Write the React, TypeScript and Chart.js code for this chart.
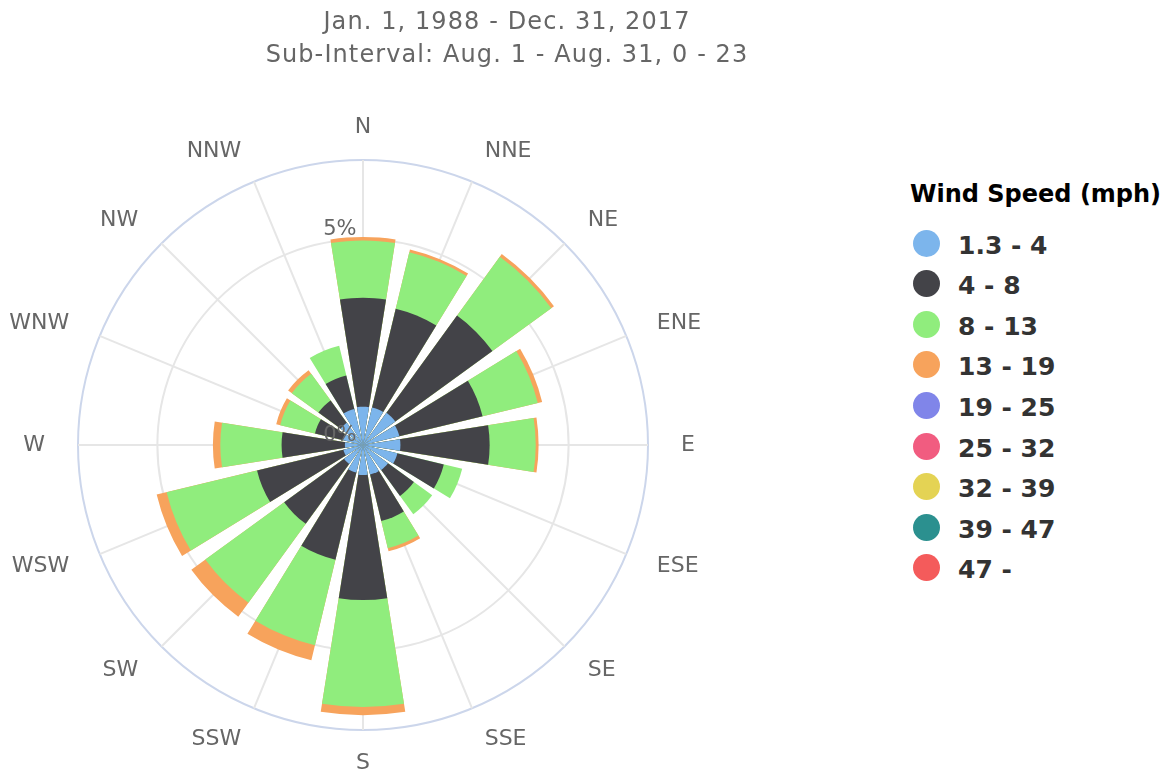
import React, { useEffect, useRef } from 'react';
import { Chart, registerables } from 'chart.js';

Chart.register(...registerables);

// ---------- data ----------
const titleLines = ['Jan. 1, 1988 - Dec. 31, 2017', 'Sub-Interval: Aug. 1 - Aug. 31, 0 - 23'];
const legendTitle = 'Wind Speed (mph)';
const directions = ['N', 'NNE', 'NE', 'ENE', 'E', 'ESE', 'SE', 'SSE', 'S', 'SSW', 'SW', 'WSW', 'W', 'WNW', 'NW', 'NNW'];
const speedBins = ['1.3 - 4', '4 - 8', '8 - 13', '13 - 19', '19 - 25', '25 - 32', '32 - 39', '39 - 47', '47 -'];
const binColors = ['#7cb5ec', '#434348', '#90ed7d', '#f7a35c', '#8085e9', '#f15c80', '#e4d354', '#2b908f', '#f45b5b'];

// frequency (%) per direction, N .. NNW
const bin1 = [0.93, 0.94, 0.97, 0.91, 0.91, 0.86, 0.75, 0.74, 0.73, 0.69, 0.57, 0.49, 0.44, 0.51, 0.67, 0.90];
const bin2 = [2.65, 2.47, 2.92, 2.08, 2.17, 1.16, 0.78, 1.16, 3.04, 2.18, 1.80, 2.16, 1.54, 0.69, 0.67, 0.84];
const bin3 = [1.39, 1.41, 1.77, 1.38, 1.12, 0.46, 0.55, 0.68, 2.60, 2.14, 2.37, 2.26, 1.49, 0.87, 0.80, 0.74];
const bin4 = [0.09, 0.07, 0.08, 0.11, 0.07, 0.00, 0.00, 0.08, 0.20, 0.37, 0.42, 0.25, 0.18, 0.10, 0.11, 0.00];
const bin5 = [0, 0, 0, 0, 0, 0, 0, 0, 0, 0, 0, 0, 0, 0, 0, 0];
const bin6 = [0, 0, 0, 0, 0, 0, 0, 0, 0, 0, 0, 0, 0, 0, 0, 0];
const bin7 = [0, 0, 0, 0, 0, 0, 0, 0, 0, 0, 0, 0, 0, 0, 0, 0];
const bin8 = [0, 0, 0, 0, 0, 0, 0, 0, 0, 0, 0, 0, 0, 0, 0, 0];
const bin9 = [0, 0, 0, 0, 0, 0, 0, 0, 0, 0, 0, 0, 0, 0, 0, 0];

const radialTicks = [0, 5];
const radialMax = 6.93;

// ---------- geometry / style ----------
const BAR_ANGLE = 18;
const GAP_ANGLE = 360 / 16 - BAR_ANGLE;
const series = [bin1, bin2, bin3, bin4, bin5, bin6, bin7, bin8, bin9];

// element sequence: N(right half), [gap, bar k] for k=1..15, gap, N(left half)
const elementAngles: number[] = (() => {
  const a = [BAR_ANGLE / 2];
  for (let k = 1; k < directions.length; k++) a.push(GAP_ANGLE, BAR_ANGLE);
  a.push(GAP_ANGLE, BAR_ANGLE / 2);
  return a;
})();

function buildElements(j: number): number[] {
  const cum = directions.map((_, k) => series.slice(0, j + 1).reduce((acc, s) => acc + s[k], 0));
  const val = (k: number) => (series[j][k] > 0 ? cum[k] : 0);
  const out = [val(0)];
  for (let k = 1; k < directions.length; k++) out.push(0, val(k));
  out.push(0, val(0));
  return out;
}

const labelPlugin = {
  id: 'roseLabels',
  afterDatasetsDraw(chart: any) {
    const s = chart.scales.r;
    const ctx = chart.ctx;
    ctx.save();
    ctx.fillStyle = '#666666';
    ctx.font = '22px "DejaVu Sans"';
    ctx.textBaseline = 'middle';
    directions.forEach((d, i) => {
      const p = s.getPointPosition(i, s.drawingArea + 33);
      const deg = (i * 360) / directions.length;
      ctx.textAlign = deg === 0 || deg === 180 ? 'center' : deg < 180 ? 'left' : 'right';
      ctx.fillText(d, p.x, p.y);
    });
    ctx.font = '21px "DejaVu Sans"';
    ctx.textAlign = 'right';
    ctx.textBaseline = 'alphabetic';
    radialTicks.forEach((v) => {
      const dist = s.getDistanceFromCenterForValue(v);
      ctx.fillText(v + '%', s.xCenter - 6.5, s.yCenter - dist - 4.5);
    });
    ctx.restore();
  },
};

export default function App() {
  const canvasRef = useRef<HTMLCanvasElement | null>(null);

  useEffect(() => {
    if (!canvasRef.current) return;
    const chart = new Chart(canvasRef.current, {
      type: 'polarArea',
      data: {
        labels: directions,
        datasets: speedBins.map((name, j) => ({
          label: name,
          data: buildElements(j),
          backgroundColor: binColors[j],
          borderWidth: 0,
          angle: (c: any) => elementAngles[c.dataIndex],
        })) as any,
      },
      options: {
        responsive: false,
        animation: false,
        devicePixelRatio: 1,
        layout: { padding: { left: 78, top: 160, right: 252, bottom: 46 } },
        plugins: {
          legend: { display: false },
          tooltip: { enabled: false },
          title: { display: false },
        },
        scales: {
          r: {
            min: 0,
            max: radialMax,
            startAngle: 0,
            ticks: { display: false },
            pointLabels: { display: false },
            grid: {
              circular: true,
              lineWidth: 2,
              color: (c: any) => (c.tick && c.tick.value >= radialMax - 1e-9 ? '#ccd6eb' : '#e6e6e6'),
            },
            angleLines: { display: true, color: '#e6e6e6', lineWidth: 2 },
            afterBuildTicks: (scale: any) => {
              scale.ticks = [...radialTicks, radialMax].map((value) => ({ value }));
            },
          } as any,
        },
      } as any,
      plugins: [labelPlugin],
    });
    return () => chart.destroy();
  }, []);

  return (
    <div
      style={{
        position: 'absolute',
        left: 0,
        top: 0,
        width: 1171,
        height: 776,
        background: '#ffffff',
        fontFamily: '"DejaVu Sans"',
        overflow: 'hidden',
      }}
    >
      <canvas ref={canvasRef} width={900} height={776} style={{ position: 'absolute', left: 0, top: 0, width: 900, height: 776 }} />
      <div
        style={{
          position: 'absolute',
          left: 0,
          top: 5,
          width: 1014,
          textAlign: 'center',
          fontSize: 24,
          lineHeight: '33px',
          color: '#666666',
          letterSpacing: '1.1px',
          whiteSpace: 'nowrap',
        }}
      >
        {titleLines.map((t) => (
          <div key={t}>{t}</div>
        ))}
      </div>
      <div style={{ position: 'absolute', left: 910, top: 178.5 }}>
        <div style={{ fontSize: 24, fontWeight: 'bold', lineHeight: '30px', color: '#000000', whiteSpace: 'nowrap' }}>{legendTitle}</div>
      </div>
      <div style={{ position: 'absolute', left: 913, top: 223 }}>
        {speedBins.map((name, j) => (
          <div key={name} style={{ height: 40.55, display: 'flex', alignItems: 'center' }}>
            <span
              style={{
                display: 'inline-block',
                width: 27,
                height: 27,
                borderRadius: '50%',
                background: binColors[j],
                flex: '0 0 auto',
              }}
            />
            <span
              style={{
                marginLeft: 18,
                fontSize: 25,
                fontWeight: 'bold',
                color: '#333333',
                position: 'relative',
                top: 2,
                whiteSpace: 'nowrap',
              }}
            >
              {name}
            </span>
          </div>
        ))}
      </div>
    </div>
  );
}
